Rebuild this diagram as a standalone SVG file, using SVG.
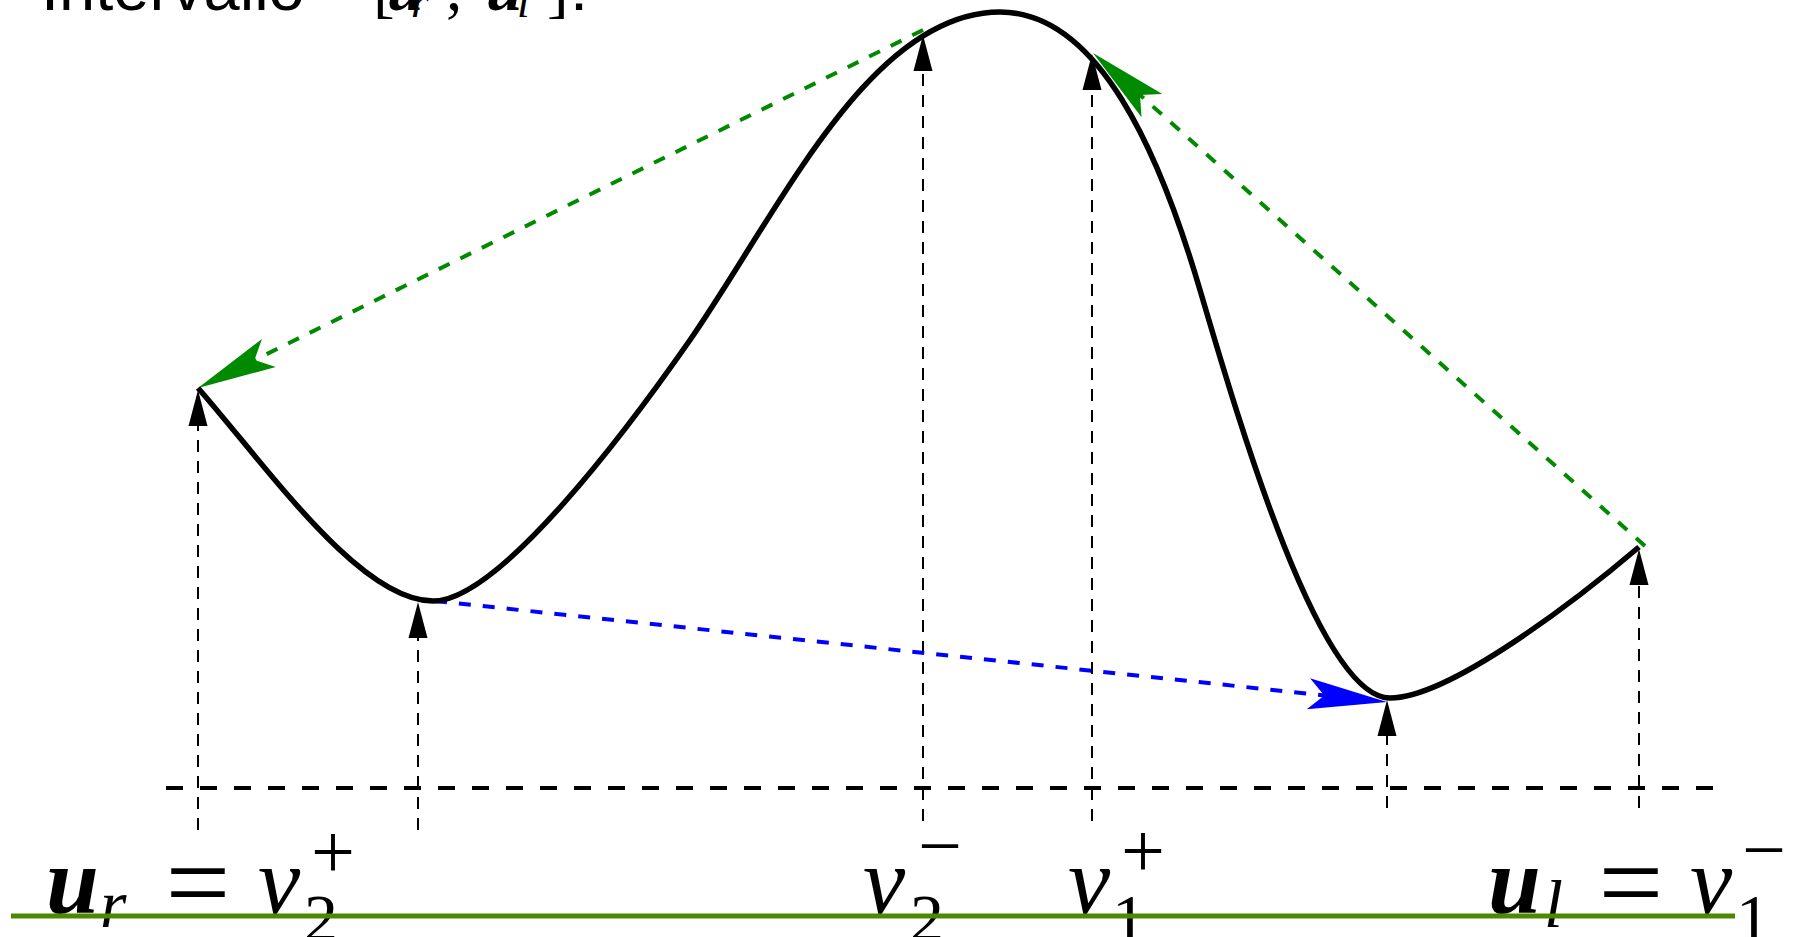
<svg xmlns="http://www.w3.org/2000/svg" width="1793" height="937" viewBox="0 0 1793 937">
<style>
.curve{fill:none;stroke:#000;stroke-width:5.5;stroke-linejoin:round}
.vline{fill:none;stroke:#000;stroke-width:2;stroke-dasharray:12 9}
.hline{fill:none;stroke:#000;stroke-width:4;stroke-dasharray:17 17}
.garrow{fill:none;stroke:#008a00;stroke-width:4;stroke-dasharray:12 12}
.barrow{fill:none;stroke:#0000ff;stroke-width:4;stroke-dasharray:12 12}
.axis{fill:none;stroke:#4d8900;stroke-width:5}
.m{font-family:"Liberation Serif",serif;fill:#000}
.it{font-style:italic}
.bi{font-style:italic;font-weight:bold}
.main{font-size:95px}
.sub{font-size:68px}
.sup{font-size:78px}
.title{font-family:"Liberation Sans",sans-serif;font-size:65px;fill:#000}
</style>
<defs>
<marker id="stG" markerUnits="userSpaceOnUse" viewBox="-80 -17 82 34" refX="-63" refY="0" markerWidth="82" markerHeight="34" orient="auto">
<path d="M0,0 L-79,-15.6 L-63,0 L-79,15.6 Z" fill="#008a00"/>
</marker>
<marker id="stB" markerUnits="userSpaceOnUse" viewBox="-80 -17 82 34" refX="-63" refY="0" markerWidth="82" markerHeight="34" orient="auto">
<path d="M0,0 L-79,-15.6 L-63,0 L-79,15.6 Z" fill="#0000ff"/>
</marker>
<marker id="tri" markerUnits="userSpaceOnUse" viewBox="-1 -10 38 20" refX="0" refY="0" markerWidth="38" markerHeight="20" orient="auto">
<path d="M0,-9.5 L36,0 L0,9.5 Z" fill="#000"/>
</marker>
</defs>

<g id="title">
<text class="title" x="41" y="10">Intervallo</text>
<text class="m" x="373" y="10" font-size="65">[</text>
<text class="m bi" x="387" y="10" font-size="65">u</text>
<text class="m it" x="411" y="17" font-size="46">r</text>
<text class="m" x="446" y="10" font-size="65">,</text>
<text class="m bi" x="486" y="10" font-size="65">u</text>
<text class="m it" x="517" y="17" font-size="46">l</text>
<text class="m" x="547" y="10" font-size="65">]</text>
<text class="title" x="570" y="10">:</text>
</g>

<g id="connectors">
<path class="hline" d="M166,788 H1724"/>
<path class="vline" d="M198,830 V426" marker-end="url(#tri)"/>
<path class="vline" d="M418,830 V638" marker-end="url(#tri)"/>
<path class="vline" d="M923,821 V71" marker-end="url(#tri)"/>
<path class="vline" d="M1092,821 V90" marker-end="url(#tri)"/>
<path class="vline" d="M1387,808 V736" marker-end="url(#tri)"/>
<path class="vline" d="M1639,808 V585" marker-end="url(#tri)"/>
<path class="garrow" d="M923,30 L254.5,360.1" marker-end="url(#stG)"/>
<path class="garrow" d="M1645,546 L1140,95" marker-end="url(#stG)"/>
<path class="barrow" d="M435,601 L1324.3,695.4" marker-end="url(#stB)"/>
</g>

<g id="curve">
<path class="curve" d="M198,388 C268,468 360,601 433,601 C500,601 630,426 690,340 C780,210 870,12 1000,12 C1099,12 1160,154 1200,290 C1240,426 1320,698 1390,698 C1450,698 1579,598 1639,547"/>
</g>

<g id="label-ur">
<text class="m bi main" x="46" y="913">u</text>
<text class="m it sub" x="100" y="927">r</text>
<text class="m" x="198" y="921" font-size="115" text-anchor="middle">=</text>
<text class="m it main" x="258" y="913">v</text>
<text class="m sub" x="304" y="941">2</text>
<text class="m sup" x="333" y="878" text-anchor="middle">+</text>
</g>

<g id="label-v2m">
<text class="m it main" x="863" y="913">v</text>
<text class="m sub" x="910" y="941">2</text>
<text class="m sup" x="940" y="872" text-anchor="middle">−</text>
</g>

<g id="label-v1p">
<text class="m it main" x="1068" y="913">v</text>
<text class="m sub" x="1112" y="941">1</text>
<text class="m sup" x="1143" y="877" text-anchor="middle">+</text>
</g>

<g id="label-ul">
<text class="m bi main" x="1488" y="913">u</text>
<text class="m it sub" x="1544" y="927">l</text>
<text class="m" x="1631" y="921" font-size="115" text-anchor="middle">=</text>
<text class="m it main" x="1690" y="913">v</text>
<text class="m sub" x="1736" y="941">1</text>
<text class="m sup" x="1764" y="876" text-anchor="middle">−</text>
</g>

<g id="axis">
<path class="axis" d="M11,916 H1735"/>
</g>
</svg>
